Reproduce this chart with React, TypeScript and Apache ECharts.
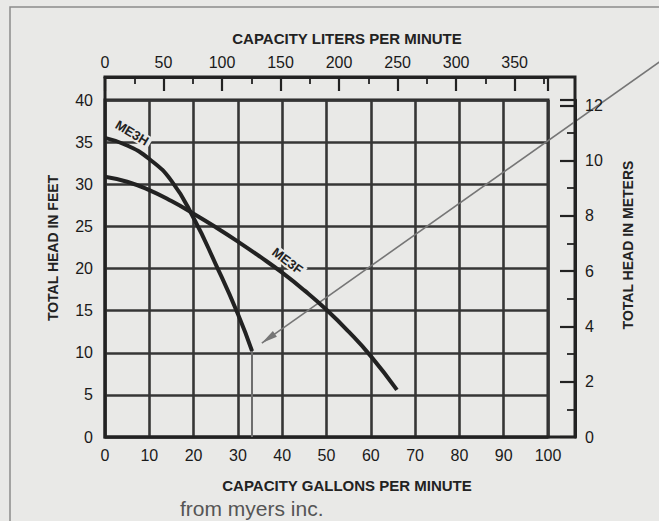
import React, { useEffect, useRef } from 'react';
import * as echarts from 'echarts';

// Pump performance curves (capacity in gallons per minute, total head in feet)
const ME3H_GPM = [0, 5, 10, 15, 20, 25, 30, 33.2];
const ME3H_FT = [35.5, 34.6, 33.0, 30.4, 26.0, 20.5, 14.6, 10.2];
const ME3F_GPM = [0, 5, 10, 15, 20, 25, 30, 35, 40, 45, 50, 55, 60, 65.9];
const ME3F_FT = [30.9, 30.3, 29.3, 28.0, 26.5, 24.9, 23.2, 21.4, 19.5, 17.4, 15.1, 12.5, 9.6, 5.6];

// curve name labels (position in data units, angle in degrees)
const CURVE_LABELS = [
  { text: 'ME3H', gpm: 6.1, ft: 36.1, angle: -31 },
  { text: 'ME3F', gpm: 41.2, ft: 20.9, angle: -37 },
];
const ARROW_TIP = [35.4, 11.15];

const GPM_MAX = 100;
const GPM_STEP = 10;
const FT_MAX = 40;
const FT_STEP = 5;
const LPM_STEP = 50;
const M_STEP = 2;
const L_PER_GAL = 3.78541;
const FT_PER_M = 3.28084;

const TITLE_TOP = 'CAPACITY LITERS PER MINUTE';
const TITLE_BOTTOM = 'CAPACITY GALLONS PER MINUTE';
const TITLE_LEFT = 'TOTAL HEAD IN FEET';
const TITLE_RIGHT = 'TOTAL HEAD IN METERS';
const SOURCE = 'from myers inc.';

export default function App() {
  const ref = useRef<HTMLDivElement>(null);
  useEffect(() => {
    const chart = echarts.init(ref.current!, null, { renderer: 'svg', width: 659, height: 521 });
    const ink = '#222222';
    const gridInk = '#363636';
    const paper = '#e9e9e7';
    const font = 'Liberation Sans, Arial, sans-serif';
    const tickLabel = { color: '#1a1a1a', fontSize: 16, fontFamily: font };

    const zip = (xs: number[], ys: number[]) => xs.map((x, i) => [x, ys[i]]);

    chart.setOption({
      animation: false,
      backgroundColor: paper,
      grid: [
        { left: 105, right: 111, top: 100, bottom: 84, show: true, borderColor: ink, borderWidth: 3, backgroundColor: 'transparent' },
        { left: 105, right: 111, top: 77, height: 23, show: false },
        { left: 548, right: 84, top: 100, bottom: 84, show: false },
      ],
      xAxis: [
        {
          gridIndex: 0, type: 'value', min: 0, max: GPM_MAX, interval: GPM_STEP,
          axisLine: { show: false }, axisTick: { show: false },
          axisLabel: { ...tickLabel, margin: 10 },
          splitLine: { show: true, lineStyle: { color: gridInk, width: 2.6 } },
        },
        {
          gridIndex: 1, type: 'value', position: 'top', min: 0, max: GPM_MAX * L_PER_GAL, interval: LPM_STEP,
          axisLine: { show: true, onZero: false, lineStyle: { color: ink, width: 3 } },
          axisTick: { show: true, inside: true, length: 14, lineStyle: { color: ink, width: 2.2 } },
          minorTick: { show: true, splitNumber: 2, length: 7, lineStyle: { color: ink, width: 1.8 } },
          axisLabel: { ...tickLabel, margin: 7, showMaxLabel: false },
          splitLine: { show: false },
        },
        { gridIndex: 2, type: 'value', min: 0, max: 1, show: false },
      ],
      yAxis: [
        {
          gridIndex: 0, type: 'value', min: 0, max: FT_MAX, interval: FT_STEP,
          axisLine: { show: false }, axisTick: { show: false },
          axisLabel: { ...tickLabel, margin: 12 },
          splitLine: { show: true, lineStyle: { color: gridInk, width: 2.6 } },
        },
        { gridIndex: 1, type: 'value', min: 0, max: 1, show: false },
        {
          gridIndex: 2, type: 'value', position: 'right', min: 0, max: FT_MAX / FT_PER_M, interval: M_STEP,
          axisLine: { show: true, onZero: false, lineStyle: { color: ink, width: 3 } },
          axisTick: { show: true, inside: true, length: 15, lineStyle: { color: ink, width: 2.2 } },
          minorTick: { show: true, splitNumber: 2, length: 8, lineStyle: { color: ink, width: 1.8 } },
          axisLabel: { ...tickLabel, margin: 10, showMaxLabel: false },
          splitLine: { show: false },
        },
      ],
      series: [
        {
          name: 'ME3H', type: 'line', xAxisIndex: 0, yAxisIndex: 0,
          data: zip(ME3H_GPM, ME3H_FT), smooth: 0.5, showSymbol: false, silent: true,
          lineStyle: { color: ink, width: 4 },
          markLine: {
            silent: true, symbol: ['none', 'none'], label: { show: false },
            lineStyle: { color: '#6e6e6e', width: 2, type: 'solid' },
            data: [[
              { coord: [ME3H_GPM[ME3H_GPM.length - 1], ME3H_FT[ME3H_FT.length - 1]] },
              { coord: [ME3H_GPM[ME3H_GPM.length - 1], 0] },
            ]],
          },
        },
        {
          name: 'ME3F', type: 'line', xAxisIndex: 0, yAxisIndex: 0,
          data: zip(ME3F_GPM, ME3F_FT), smooth: 0.5, showSymbol: false, silent: true,
          lineStyle: { color: ink, width: 4 },
        },
      ],
    });

    const px = (p: number[]) => chart.convertToPixel({ gridIndex: 0 }, p) as number[];
    const tip = px(ARROW_TIP);
    const dx = 396, dy = -280;
    const len = Math.sqrt(dx * dx + dy * dy);
    const ux = dx / len, uy = dy / len;
    const nx = -uy, ny = ux;
    const graphics: any[] = [
      { type: 'rect', silent: true, shape: { x: 10, y: 7, width: 700, height: 600 }, style: { fill: 'none', stroke: '#8c8c8c', lineWidth: 1.5 } },
      { type: 'rect', silent: true, shape: { x: 105, y: 77, width: 470, height: 360 }, style: { fill: 'none', stroke: ink, lineWidth: 3 } },
      { type: 'text', x: 347, y: 38, style: { text: TITLE_TOP, font: `bold 15px ${font}`, fill: ink, align: 'center', verticalAlign: 'middle' } },
      { type: 'text', x: 347, y: 485, style: { text: TITLE_BOTTOM, font: `bold 15px ${font}`, fill: ink, align: 'center', verticalAlign: 'middle' } },
      { type: 'text', x: 53, y: 248, rotation: Math.PI / 2, style: { text: TITLE_LEFT, font: `bold 14px ${font}`, fill: ink, align: 'center', verticalAlign: 'middle' } },
      { type: 'text', x: 628, y: 245, rotation: Math.PI / 2, style: { text: TITLE_RIGHT, font: `bold 14px ${font}`, fill: ink, align: 'center', verticalAlign: 'middle' } },
      { type: 'text', x: 180, y: 508, style: { text: SOURCE, font: `21px ${font}`, fill: '#555555', align: 'left', verticalAlign: 'middle' } },
      { type: 'line', silent: true, shape: { x1: tip[0], y1: tip[1], x2: tip[0] + ux * 560, y2: tip[1] + uy * 560 }, style: { stroke: '#767676', lineWidth: 1.6 } },
      {
        type: 'polygon', silent: true,
        shape: { points: [[tip[0], tip[1]], [tip[0] + ux * 16 + nx * 3.5, tip[1] + uy * 16 + ny * 3.5], [tip[0] + ux * 16 - nx * 3.5, tip[1] + uy * 16 - ny * 3.5]] },
        style: { fill: '#767676' },
      },
    ];
    CURVE_LABELS.forEach((l) => {
      const p = px([l.gpm, l.ft]);
      graphics.push({
        type: 'text', x: p[0], y: p[1], rotation: (l.angle * Math.PI) / 180,
        style: { text: l.text, font: `bold 13px ${font}`, fill: ink, align: 'center', verticalAlign: 'middle', backgroundColor: paper, padding: [0, 3] },
      });
    });
    chart.setOption({ graphic: graphics });

    return () => chart.dispose();
  }, []);
  return <div ref={ref} style={{ position: 'fixed', left: 0, top: 0, width: 659, height: 521 }} />;
}
